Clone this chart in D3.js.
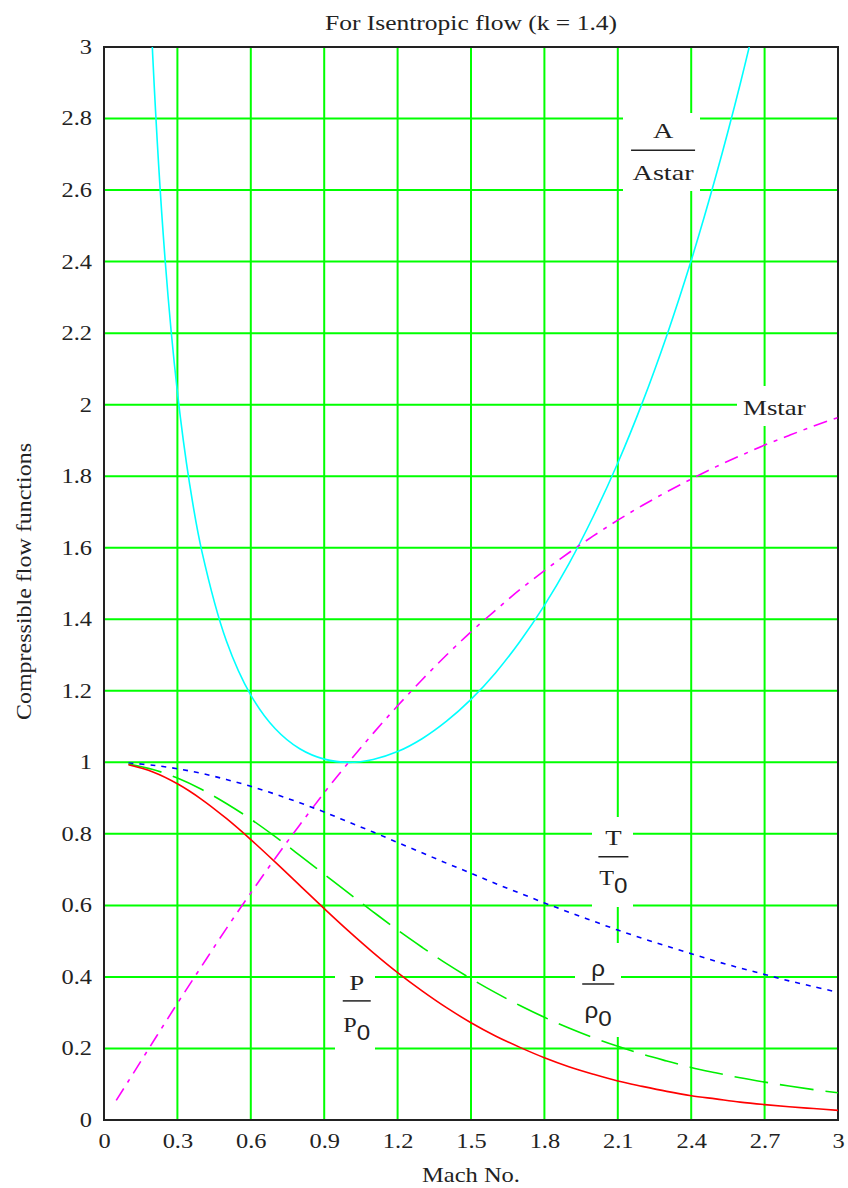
<!DOCTYPE html>
<html>
<head>
<meta charset="utf-8">
<script src="https://cdn.jsdelivr.net/npm/d3@7"></script>
<style>
  body { margin: 0; background: #fff; }
  text { font-family: "Liberation Serif", "Times New Roman", serif; fill: #222; }
</style>
</head>
<body>
<script>
// values (k = 1.4)
const mach = [0.1, 0.2, 0.3, 0.4, 0.5, 0.6, 0.7, 0.8, 0.9, 1.0, 1.1, 1.2, 1.3, 1.4, 1.5,
  1.6, 1.7, 1.8, 1.9, 2.0, 2.1, 2.2, 2.3, 2.4, 2.5, 2.6, 2.7, 2.8, 2.9, 3.0]
const pRatio = [0.993, 0.973, 0.940, 0.896, 0.843, 0.784, 0.721, 0.656, 0.591, 0.528, 0.468,
  0.412, 0.361, 0.314, 0.272, 0.235, 0.203, 0.174, 0.149, 0.128, 0.109, 0.094, 0.080, 0.068,
  0.059, 0.050, 0.043, 0.037, 0.032, 0.027]
const rhoRatio = [0.995, 0.980, 0.956, 0.924, 0.885, 0.841, 0.792, 0.740, 0.687, 0.634, 0.582,
  0.531, 0.483, 0.437, 0.395, 0.356, 0.320, 0.287, 0.257, 0.230, 0.206, 0.184, 0.165, 0.147,
  0.132, 0.118, 0.106, 0.095, 0.085, 0.076]
const tRatio = [0.998, 0.992, 0.982, 0.969, 0.952, 0.933, 0.911, 0.887, 0.861, 0.833, 0.805,
  0.776, 0.747, 0.718, 0.690, 0.661, 0.634, 0.607, 0.581, 0.556, 0.531, 0.508, 0.486, 0.465,
  0.444, 0.425, 0.407, 0.389, 0.373, 0.357]
const aMach = [0.15, 0.2, 0.25, 0.3, 0.35, 0.4, 0.5, 0.6, 0.7, 0.8, 0.9, 1.0, 1.1, 1.2, 1.3, 1.4,
  1.5, 1.6, 1.7, 1.8, 1.9, 2.0, 2.1, 2.2, 2.3, 2.4, 2.5, 2.6, 2.7]
const aRatio = [3.910, 2.964, 2.403, 2.035, 1.778, 1.590, 1.340, 1.188, 1.094, 1.038, 1.009,
  1.000, 1.008, 1.030, 1.066, 1.115, 1.176, 1.250, 1.338, 1.439, 1.555, 1.688, 1.837, 2.005,
  2.193, 2.403, 2.637, 2.896, 3.183]
const mstarMach = [0.05, 0.1, 0.2, 0.3, 0.4, 0.5, 0.6, 0.7, 0.8, 0.9, 1.0, 1.1, 1.2, 1.3, 1.4,
  1.5, 1.6, 1.7, 1.8, 1.9, 2.0, 2.1, 2.2, 2.3, 2.4, 2.5, 2.6, 2.7, 2.8, 2.9, 3.0]
const mstar = [0.055, 0.109, 0.218, 0.326, 0.431, 0.535, 0.635, 0.732, 0.825, 0.915, 1.000,
  1.081, 1.158, 1.231, 1.300, 1.365, 1.425, 1.483, 1.536, 1.586, 1.633, 1.677, 1.718, 1.756,
  1.792, 1.826, 1.857, 1.887, 1.914, 1.940, 1.964]

const xTicks = [0, 0.3, 0.6, 0.9, 1.2, 1.5, 1.8, 2.1, 2.4, 2.7, 3]
const yTicks = [0, 0.2, 0.4, 0.6, 0.8, 1, 1.2, 1.4, 1.6, 1.8, 2, 2.2, 2.4, 2.6, 2.8, 3]

const width = 848, height = 1188
const x = d3.scaleLinear().domain([0, 3]).range([104, 838])
const y = d3.scaleLinear().domain([0, 3]).range([1120, 47])

const svg = d3.select('body').append('svg')
  .attr('width', width).attr('height', height)

// the original renders its serif text wider than Liberation Serif
const stretch = (sel, k = 1.22) => sel.each(function () {
  const len = this.getComputedTextLength()
  d3.select(this).attr('textLength', len * k).attr('lengthAdjust', 'spacingAndGlyphs')
})

svg.append('defs').append('clipPath').attr('id', 'plot')
  .append('rect')
  .attr('x', x(0)).attr('y', y(3))
  .attr('width', x(3) - x(0)).attr('height', y(0) - y(3))

// grid
const grid = svg.append('g').attr('stroke', '#00ff00').attr('stroke-width', 2)
grid.selectAll('line.v').data(xTicks.slice(1, -1)).join('line')
  .attr('class', 'v')
  .attr('x1', d => x(d)).attr('x2', d => x(d))
  .attr('y1', y(0)).attr('y2', y(3))
grid.selectAll('line.h').data(yTicks.slice(1, -1)).join('line')
  .attr('class', 'h')
  .attr('x1', x(0)).attr('x2', x(3))
  .attr('y1', d => y(d)).attr('y2', d => y(d))

// frame
svg.append('rect')
  .attr('x', x(0)).attr('y', y(3))
  .attr('width', x(3) - x(0)).attr('height', y(0) - y(3))
  .attr('fill', 'none').attr('stroke', '#222').attr('stroke-width', 2)

// axes
const xAxis = svg.append('g').attr('transform', `translate(0,${y(0)})`)
  .call(d3.axisBottom(x).tickValues(xTicks).tickSize(0).tickPadding(14).tickFormat(d3.format('')))
const yAxis = svg.append('g').attr('transform', `translate(${x(0)},0)`)
  .call(d3.axisLeft(y).tickValues(yTicks).tickSize(0).tickPadding(12).tickFormat(d3.format('')))
for (const ax of [xAxis, yAxis]) {
  ax.select('.domain').remove()
  ax.selectAll('text')
    .style('font-family', '"Liberation Serif", serif')
    .style('font-size', '20px').attr('fill', '#222')
    .call(stretch)
}

// labels with white boxes
const labels = svg.append('g')
function boxAt(x0, x1, y0, y1) {
  labels.append('rect')
    .attr('x', x0).attr('y', y0).attr('width', x1 - x0).attr('height', y1 - y0)
    .attr('fill', '#fff')
}
function fraction(cx, cy, num, den, sub, barW, opts = {}) {
  const g = labels.append('g').attr('transform', `translate(${cx},${cy})`)
  const font = opts.font || '"Liberation Serif", serif'
  g.append('text').attr('text-anchor', 'middle').attr('y', opts.numY || -12)
    .style('font-family', font).style('font-size', '22px').text(num)
    .call(stretch, opts.k || 1.22)
  g.append('line').attr('x1', -barW / 2).attr('x2', barW / 2)
    .attr('stroke', '#222').attr('stroke-width', 1.5)
  const t = g.append('text').attr('text-anchor', 'middle').attr('y', opts.denY || 30)
    .style('font-family', font).style('font-size', '22px')
  t.append('tspan').text(den)
  if (sub) {
    t.append('tspan').attr('dy', 8).style('font-family', '"Liberation Sans", sans-serif')
      .style('font-size', '22px').text(sub)
  }
  t.call(stretch, opts.k || 1.1)
}

boxAt(623, 700, 113, 191)
fraction(x(2.285), y(2.711), 'A', 'Astar', null, 64, { k: 1.28 })

boxAt(737, 837, 386, 426)
labels.append('text').attr('x', x(2.74)).attr('y', y(1.972)).attr('text-anchor', 'middle')
  .style('font-size', '22px').text('Mstar').call(stretch)

boxAt(592, 633, 817, 907)
fraction(x(2.082), y(0.736), 'T', 'T', '0', 30, { denY: 28 })

boxAt(575, 621, 943, 1037)
fraction(x(2.02), y(0.38), 'ρ', 'ρ', '0', 32,
  { font: '"Liberation Sans", sans-serif', numY: -8, denY: 34, k: 1.1 })

boxAt(335, 375, 958, 1052)
fraction(x(1.033), y(0.333), 'P', 'P', '0', 28, { numY: -11, denY: 31 })

// curves
const plot = svg.append('g').attr('clip-path', 'url(#plot)').attr('fill', 'none')
const line = d3.line().x(d => x(d[0])).y(d => y(d[1])).curve(d3.curveCatmullRom)
const series = [
  { m: aMach, v: aRatio, color: '#00ffff', dash: null },
  { m: mstarMach, v: mstar, color: '#ff00ff', dash: '14 7 4 7' },
  { m: mach, v: tRatio, color: '#0000ff', dash: '5 6' },
  { m: mach, v: rhoRatio, color: '#00ee00', dash: '34 12' },
  { m: mach, v: pRatio, color: '#ff0000', dash: null }
]
plot.selectAll('path').data(series).join('path')
  .attr('d', s => line(s.m.map((m, i) => [m, s.v[i]])))
  .attr('stroke', s => s.color)
  .attr('stroke-width', 1.6)
  .attr('stroke-dasharray', s => s.dash)

// titles
svg.append('text').attr('x', 325).attr('y', 30)
  .style('font-size', '22px').attr('textLength', 292).attr('lengthAdjust', 'spacingAndGlyphs')
  .text('For Isentropic flow (k = 1.4)')
svg.append('text').attr('x', 422).attr('y', 1182)
  .style('font-size', '22px').attr('textLength', 98).attr('lengthAdjust', 'spacingAndGlyphs')
  .text('Mach No.')
svg.append('text').attr('transform', 'translate(31,720) rotate(-90)')
  .style('font-size', '21px').attr('textLength', 277).attr('lengthAdjust', 'spacingAndGlyphs')
  .text('Compressible flow functions')
</script>
</body>
</html>
